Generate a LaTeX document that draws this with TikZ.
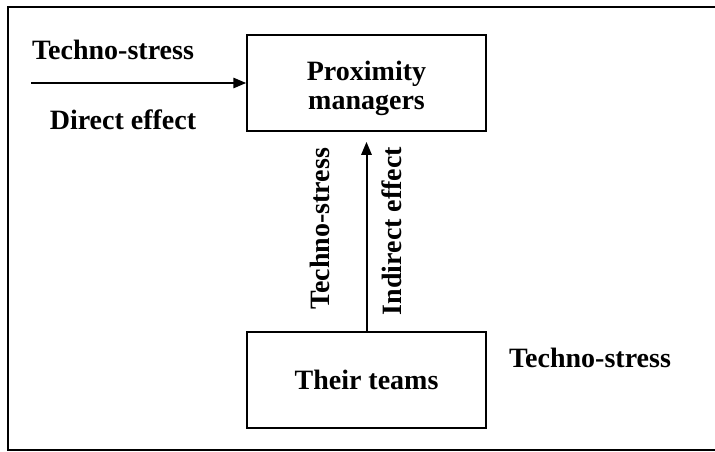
\documentclass[tikz,border=0pt]{standalone}
\usepackage{fontspec}
\setmainfont{Liberation Serif}
\usepackage{tikz}
\usetikzlibrary{arrows}

\begin{document}
\begin{tikzpicture}
		[x=1pt,y=-1pt,
		 box/.style= {draw=black,line width=1.8pt,minimum width=239pt,minimum height=96pt,inner sep=0pt,align=center,font=\bfseries\fontsize{28}{29}\selectfont},
		 lbl/.style= {inner sep=0pt,font=\bfseries\fontsize{28}{28}\selectfont},
		 arr/.style= {-triangle 45,line width=2pt}]

		\useasboundingbox (0,0) rectangle (715,452);
		\draw[line width=1.8pt] (715,7) -| (8,450) -- (715,450);

		\node[box] (pm) at (366.5,83) {\rule{0pt}{31pt}Proximity\\managers}
		;

		\node[box] (tt) at (366.5,380) {\rule{0pt}{14pt}Their teams}
		;

		\coordinate (src) at (31,83);
		\coordinate (tip) at (366.5,142);

		\draw[arr] (src) -- (pm.west);
		\draw[arr] (tt.north) -- (tip);

		\node[lbl] (ts1) at (113,50) {Techno-stress};
		\node[lbl] (de) at (123,120) {Direct effect};
		\node[lbl,rotate=90] (ts2) at (320,229) {Techno-stress};
		\node[lbl,rotate=90] (ie) at (392,231) {Indirect effect};
		\node[lbl] (ts3) at (590,358) {Techno-stress};

	\end{tikzpicture}
\end{document}
